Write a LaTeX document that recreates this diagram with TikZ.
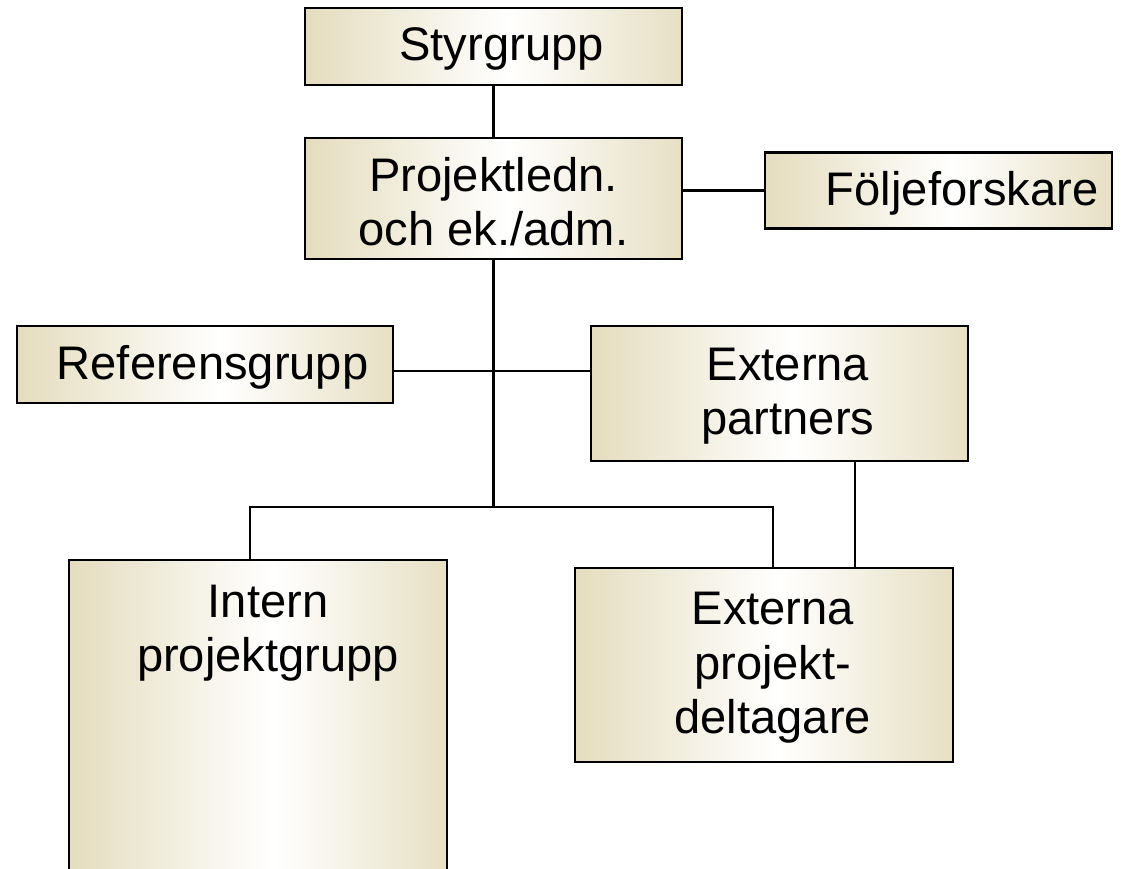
\documentclass[tikz,border=0pt]{standalone}
\usepackage{fontspec}
\setmainfont{Liberation Sans}
\usepackage{tikz}
\usetikzlibrary{positioning}

\definecolor{boxtan}{RGB}{218,207,164}
\pgfdeclarehorizontalshading{khaki}{100bp}{color(0bp)=(boxtan); color(20bp)=(boxtan!85!white);
  color(52bp)=(white); color(82bp)=(boxtan!85!white); color(100bp)=(boxtan)}

\tikzset{
  orgbox/.style={draw=black, line width=1.6pt, shading=khaki, inner sep=0pt},
  boxtext/.style={align=center, inner sep=0pt, yshift=-0.07cm},
  link/.style={line width=1.6pt}
}

\begin{document}
\begin{tikzpicture}[x=0.025cm, y=-0.025cm, font=\fontsize{33.5}{38.5}\selectfont]

            \clip (0,0) rectangle (1129,868);

            % Nodes

            \node[orgbox, minimum width=9.425cm, minimum height=1.925cm,
              label={[boxtext, xshift=0.2cm]center:Styrgrupp}] (styr) at (493.5,46.5) {};
            \node[orgbox, minimum width=9.425cm, minimum height=3.025cm,
              label={[boxtext]center:Projektledn.\\och ek./adm.}] (proj) at (493.5,198.5) {};
            \node[orgbox, minimum width=8.675cm, minimum height=1.9cm,
              label={[boxtext, xshift=0.59cm]center:Följeforskare}] (folje) at (938.5,190.5) {};
            \node[orgbox, minimum width=9.4cm, minimum height=1.925cm,
              label={[boxtext, xshift=0.19cm]center:Referensgrupp}] (ref) at (205,364.5) {};
            \node[orgbox, minimum width=9.425cm, minimum height=3.375cm,
              label={[boxtext, xshift=0.21cm]center:Externa\\partners}] (extp) at (779.5,393.5) {};
            \node[orgbox, minimum width=9.45cm, minimum height=8cm,
              label={[anchor=north, inner sep=0pt, xshift=0.25cm, yshift=-0.64cm, align=center]north:Intern\\projektgrupp}] (intern) at (258,720) {};
            \node[orgbox, minimum width=9.45cm, minimum height=4.85cm,
              label={[boxtext, xshift=0.22cm]center:Externa\\projekt-\\deltagare}] (extd) at (764,665) {};

            % Edges

            \coordinate (hub) at (493.5,371);
            \coordinate (split) at (493.5,507);
            \coordinate (dropL) at (250,507);
            \coordinate (dropR) at (773,507);
            \coordinate (pd) at (855,0);

            \draw[link] (styr) -- (proj);
            \draw[link] (proj.east |- folje.west) -- (folje.west);
            \draw[link] (proj.south) -- (split);
            \draw[link] (ref.east |- hub) -- (extp.west |- hub);
            \draw[link] (dropL |- intern.north) -- (dropL) -- (dropR) -- (dropR |- extd.north);
            \draw[link] (extp.south -| pd) -- (extd.north -| pd);

\end{tikzpicture}
\end{document}
